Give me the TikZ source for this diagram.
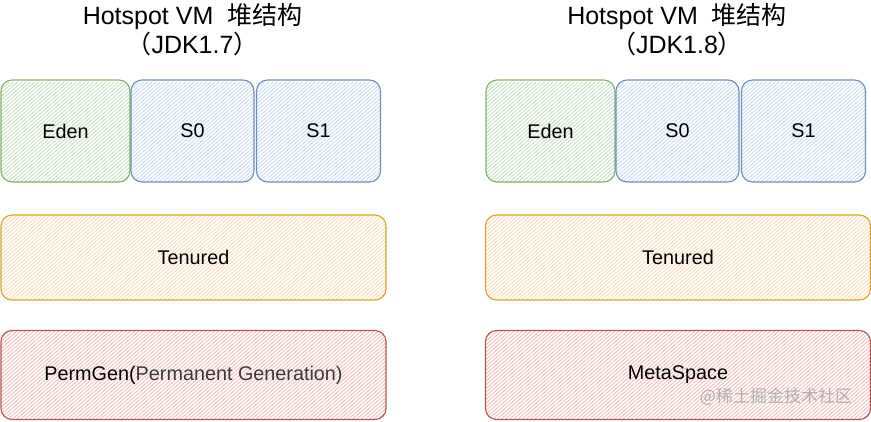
\documentclass[tikz,border=0pt]{standalone}
\usepackage{fontspec}
\setmainfont{Liberation Sans}
\newfontfamily\cjk{Noto Sans CJK SC}
\usetikzlibrary{calc}
\definecolor{gfill}{HTML}{C9E0C5}
\definecolor{gline}{HTML}{82B366}
\definecolor{bfill}{HTML}{CCDDF5}
\definecolor{bline}{HTML}{6C8EBF}
\definecolor{ofill}{HTML}{FADCBC}
\definecolor{oline}{HTML}{D9A520}
\definecolor{rfill}{HTML}{F2BFBD}
\definecolor{rline}{HTML}{B85450}
\definecolor{subtext}{HTML}{3A3A3A}
\definecolor{wmark}{HTML}{B0B0B0}
\tikzset{
  mem/.style={draw, rounded corners=11pt, line width=1.1pt, inner sep=0pt,
    font=\fontsize{19.8}{22}\selectfont, text=black},
  hatched/.style={path picture={
    \foreach \k in {0,...,120}{
      \draw[#1, line width=0.9pt]
        ([xshift=-115pt+\k*4.2pt]path picture bounding box.south west) -- ++(115pt,100pt);
    }}},
  smallbox/.style={mem, minimum width=#1, minimum height=102pt},
  widebox/.style={mem, minimum width=385pt, minimum height=#1},
  titletext/.style={font=\fontsize{25}{29}\selectfont, text=black, inner sep=0pt, anchor=base},
}
\begin{document}
\begin{tikzpicture}[x=1pt,y=-1pt]
\useasboundingbox (0,0) rectangle (871,421);

% ---------- left: JDK 1.7 ----------
\node[titletext] (t1a) at (192.5,24) {Hotspot VM\ \ {\cjk 堆结构}};
\node[titletext] (t1b) at (192.5,53) {{\cjk （}JDK1.7{\cjk ）}};

\node[smallbox=129pt, draw=gline, hatched=gfill] (eden1) at (65.5,131) {Eden};
\node[smallbox=123pt, draw=bline, hatched=bfill] (s01) at (192.5,131) {S0};
\node[smallbox=124pt, draw=bline, hatched=bfill] (s11) at (318.5,131) {S1};
\node[widebox=85pt, draw=oline, hatched=ofill] (ten1) at (193.5,257.5) {Tenured};
\node[widebox=89pt, draw=rline, hatched=rfill] (perm1) at (193.5,375) {PermGen(\textcolor{subtext}{Permanent Generation)}};

% ---------- right: JDK 1.8 ----------
\node[titletext] (t2a) at (677,24) {Hotspot VM\ \ {\cjk 堆结构}};
\node[titletext] (t2b) at (677,53) {{\cjk （}JDK1.8{\cjk ）}};

\node[smallbox=129pt, draw=gline, hatched=gfill] (eden2) at (550.5,131) {Eden};
\node[smallbox=123pt, draw=bline, hatched=bfill] (s02) at (677.5,131) {S0};
\node[smallbox=124pt, draw=bline, hatched=bfill] (s12) at (803.5,131) {S1};
\node[widebox=85pt, draw=oline, hatched=ofill] (ten2) at (678,257.5) {Tenured};
\node[widebox=89pt, draw=rline, hatched=rfill] (meta2) at (678,375) {MetaSpace};

\node[font=\fontsize{17}{19}\selectfont\cjk, text=wmark, inner sep=0pt] (wm) at (776,397) {@稀土掘金技术社区};
\end{tikzpicture}
\end{document}
